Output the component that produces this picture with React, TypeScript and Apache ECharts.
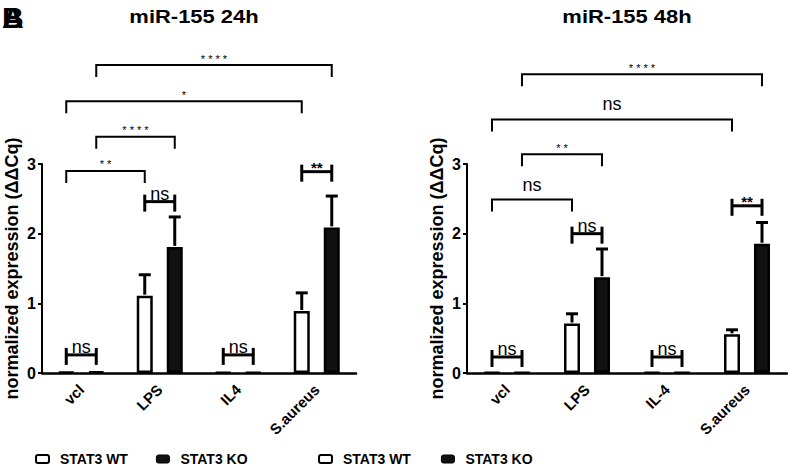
import React, { useEffect, useRef } from 'react';
import * as echarts from 'echarts';

// ---------- data ----------
const categories24 = ['vcl', 'LPS', 'IL4', 'S.aureus'];
const categories48 = ['vcl', 'LPS', 'IL-4', 'S.aureus'];
const seriesNames = ['STAT3 WT', 'STAT3 KO'];

const wt24 = [0.015, 1.11, 0.01, 0.89];
const wt24ErrTop = [0.015, 1.41, 0.01, 1.15];
const ko24 = [0.02, 1.81, 0.01, 2.09];
const ko24ErrTop = [0.02, 2.24, 0.01, 2.54];

const wt48 = [0.01, 0.71, 0.01, 0.555];
const wt48ErrTop = [0.01, 0.85, 0.01, 0.62];
const ko48 = [0.01, 1.375, 0.01, 1.855];
const ko48ErrTop = [0.01, 1.78, 0.01, 2.16];

const yTickMax = 3;
const yTickStep = 1;

// significance brackets: [fromCategory, fromGroup (0 WT / 1 KO), toCategory, toGroup, level, label]
const brackets24: [number, number, number, number, number, string][] = [
  [0, 0, 1, 0, 2.9, '* *'],
  [1, 0, 1, 1, 2.46, 'ns'],
  [0, 0, 0, 1, 0.26, 'ns'],
  [2, 0, 2, 1, 0.26, 'ns'],
  [3, 0, 3, 1, 2.89, '**'],
  [0, 1, 1, 1, 3.39, '* * * *'],
  [0, 0, 3, 0, 3.9, '*'],
  [0, 1, 3, 1, 4.42, '* * * *'],
];
const brackets48: [number, number, number, number, number, string][] = [
  [0, 0, 1, 0, 2.49, 'ns'],
  [0, 1, 1, 1, 3.14, '* *'],
  [0, 0, 3, 0, 3.64, 'ns'],
  [0, 1, 3, 1, 4.29, '* * * *'],
  [1, 0, 1, 1, 2.0, 'ns'],
  [0, 0, 0, 1, 0.23, 'ns'],
  [2, 0, 2, 1, 0.23, 'ns'],
  [3, 0, 3, 1, 2.4, '**'],
];

// ---------- styles ----------
const FONT = '"Liberation Sans", Arial, sans-serif';
const NARROW = '"Liberation Sans Narrow", "Arial Narrow", "Liberation Sans", Arial, sans-serif';
const BAR_WIDTH = 16;
const BAR_SPACING = 30; // distance between WT and KO bar centres
const BAR_OFFSET = BAR_SPACING / 2;
const BAR_GAP = ((BAR_SPACING - BAR_WIDTH) / BAR_WIDTH) * 100 + '%';

function bracketRenderer(list: [number, number, number, number, number, string][]) {
  return (params: any, api: any) => {
    const b = list[params.dataIndex];
    const [c1, g1, c2, g2, level, label] = b;
    const p1 = api.coord([c1, level]);
    const p2 = api.coord([c2, level]);
    const x1 = p1[0] + (g1 ? BAR_OFFSET : -BAR_OFFSET);
    const x2 = p2[0] + (g2 ? BAR_OFFSET : -BAR_OFFSET);
    const y = p1[1];
    const xm = (x1 + x2) / 2;
    const children: any[] = [];
    if (c1 === c2) {
      const st = { stroke: '#000', lineWidth: 3 };
      children.push({ type: 'line', shape: { x1, y1: y, x2, y2: y }, style: st });
      children.push({ type: 'line', shape: { x1, y1: y - 7, x2: x1, y2: y + 10 }, style: st });
      children.push({ type: 'line', shape: { x1: x2, y1: y - 7, x2, y2: y + 10 }, style: st });
      if (label === 'ns') {
        children.push({
          type: 'text',
          x: xm,
          y: y + 1,
          style: { text: label, fontSize: 18, fontFamily: FONT, fill: '#000', align: 'center', verticalAlign: 'bottom' },
        });
      } else {
        children.push({
          type: 'text',
          x: xm,
          y: y + 3,
          style: { text: label, fontSize: 15, fontWeight: 'bold', fontFamily: FONT, fill: '#000', align: 'center', verticalAlign: 'bottom' },
        });
      }
    } else {
      children.push({
        type: 'polyline',
        shape: { points: [[x1, y + 12], [x1, y], [x2, y], [x2, y + 12]] },
        style: { stroke: '#000', lineWidth: 2, fill: null },
      });
      if (label === 'ns') {
        children.push({
          type: 'text',
          x: xm,
          y: y - 6,
          style: { text: label, fontSize: 18, fontFamily: FONT, fill: '#000', align: 'center', verticalAlign: 'bottom' },
        });
      } else {
        children.push({
          type: 'text',
          x: xm,
          y: y - 1,
          style: { text: label, fontSize: 11, fontFamily: FONT, fill: '#000', align: 'center', verticalAlign: 'bottom' },
        });
      }
    }
    return { type: 'group', children };
  };
}

function errorRenderer(means: number[], tops: number[], offset: number) {
  return (params: any, api: any) => {
    const i = params.dataIndex;
    if (tops[i] - means[i] < 0.03) return null;
    const p0 = api.coord([i, means[i]]);
    const p1 = api.coord([i, tops[i]]);
    const x = p0[0] + offset;
    const st = { stroke: '#000', lineWidth: 3 };
    return {
      type: 'group',
      children: [
        { type: 'line', shape: { x1: x, y1: p0[1] - 1, x2: x, y2: p1[1] }, style: st },
        { type: 'line', shape: { x1: x - 6, y1: p1[1], x2: x + 6, y2: p1[1] }, style: st },
      ],
    };
  };
}

function xAxisFor(gridIndex: number, data: string[]) {
  return {
    gridIndex,
    type: 'category',
    data,
    axisLine: { lineStyle: { color: '#000', width: 2.5 } },
    axisTick: { alignWithLabel: true, length: 5, lineStyle: { color: '#000', width: 2 } },
    axisLabel: { rotate: 45, fontSize: 15, fontWeight: 'bold', color: '#000', margin: 14, fontFamily: FONT },
  };
}

function yAxisFor(gridIndex: number) {
  return {
    gridIndex,
    type: 'value',
    min: 0,
    max: yTickMax,
    interval: yTickStep,
    splitLine: { show: false },
    axisLine: { show: true, lineStyle: { color: '#000', width: 2 } },
    axisTick: { show: true, length: 4, lineStyle: { color: '#000', width: 2 } },
    axisLabel: { fontSize: 16, fontWeight: 'bold', color: '#000', margin: 6, fontFamily: FONT },
    name: 'normalized expression (ΔΔCq)',
    nameLocation: 'middle',
    nameGap: 21,
    nameTextStyle: { fontSize: 18, fontWeight: 'bold', color: '#000', fontFamily: FONT },
  };
}

function barSeries(idx: number, wt: number[], ko: number[]) {
  return [
    {
      type: 'bar',
      name: seriesNames[0],
      xAxisIndex: idx,
      yAxisIndex: idx,
      data: wt,
      barWidth: BAR_WIDTH,
      barGap: BAR_GAP,
      itemStyle: { color: '#fff', borderColor: '#000', borderWidth: 2.5 },
    },
    {
      type: 'bar',
      name: seriesNames[1],
      xAxisIndex: idx,
      yAxisIndex: idx,
      data: ko,
      barWidth: BAR_WIDTH,
      barGap: BAR_GAP,
      itemStyle: { color: '#111', borderColor: '#000', borderWidth: 2.5 },
    },
  ];
}

function legendAt(left: number, gap: number) {
  return {
    left,
    top: 452,
    itemWidth: 13,
    itemHeight: 8,
    itemGap: gap,
    padding: 0,
    selectedMode: false,
    data: [
      { name: seriesNames[0], itemStyle: { color: '#fff', borderColor: '#000', borderWidth: 2 } },
      { name: seriesNames[1], itemStyle: { color: '#111', borderColor: '#000', borderWidth: 1 } },
    ],
    textStyle: { fontSize: 14, fontWeight: 'bold', color: '#000', fontFamily: NARROW, padding: [0, 0, 0, 6] },
  };
}

export default function App() {
  const ref = useRef<HTMLDivElement>(null);
  useEffect(() => {
    if (!ref.current) return;
    const chart = echarts.init(ref.current, undefined, { renderer: 'svg' });
    const option: any = {
      animation: false,
      backgroundColor: '#fff',
      textStyle: { fontFamily: FONT },
      graphic: [
        { type: 'text', x: 2, y: 2, style: { text: 'B', fontSize: 30, fontWeight: 'bold', fill: '#000', fontFamily: FONT } },
        { type: 'text', x: 2, y: 2, style: { text: 'A', fontSize: 30, fontWeight: 'bold', fill: '#000', fontFamily: FONT } },
        {
          type: 'text', x: 194, y: 17, scaleX: 1.22,
          style: { text: 'miR-155 24h', fontSize: 18, fontWeight: 'bold', fill: '#000', align: 'center', verticalAlign: 'middle', fontFamily: FONT },
        },
        {
          type: 'text', x: 627, y: 17, scaleX: 1.22,
          style: { text: 'miR-155 48h', fontSize: 18, fontWeight: 'bold', fill: '#000', align: 'center', verticalAlign: 'middle', fontFamily: FONT },
        },
      ],
      legend: [legendAt(35, 28), legendAt(318, 30)],
      grid: [
        { left: 42, top: 164, width: 314, height: 209 },
        { left: 467, top: 164, width: 320, height: 209 },
      ],
      xAxis: [xAxisFor(0, categories24), xAxisFor(1, categories48)],
      yAxis: [yAxisFor(0), yAxisFor(1)],
      series: [
        ...barSeries(0, wt24, ko24),
        ...barSeries(1, wt48, ko48),
        { type: 'custom', xAxisIndex: 0, yAxisIndex: 0, clip: false, data: wt24.map((v, i) => [i, v]), renderItem: errorRenderer(wt24, wt24ErrTop, -BAR_OFFSET), z: 3 },
        { type: 'custom', xAxisIndex: 0, yAxisIndex: 0, clip: false, data: ko24.map((v, i) => [i, v]), renderItem: errorRenderer(ko24, ko24ErrTop, BAR_OFFSET), z: 3 },
        { type: 'custom', xAxisIndex: 1, yAxisIndex: 1, clip: false, data: wt48.map((v, i) => [i, v]), renderItem: errorRenderer(wt48, wt48ErrTop, -BAR_OFFSET), z: 3 },
        { type: 'custom', xAxisIndex: 1, yAxisIndex: 1, clip: false, data: ko48.map((v, i) => [i, v]), renderItem: errorRenderer(ko48, ko48ErrTop, BAR_OFFSET), z: 3 },
        { type: 'custom', xAxisIndex: 0, yAxisIndex: 0, clip: false, data: brackets24.map((b) => [b[0], b[4]]), renderItem: bracketRenderer(brackets24), z: 4 },
        { type: 'custom', xAxisIndex: 1, yAxisIndex: 1, clip: false, data: brackets48.map((b) => [b[0], b[4]]), renderItem: bracketRenderer(brackets48), z: 4 },
      ],
    };
    chart.setOption(option);
    return () => chart.dispose();
  }, []);
  return <div ref={ref} style={{ position: 'fixed', left: 0, top: 0, width: 788, height: 469 }} />;
}
